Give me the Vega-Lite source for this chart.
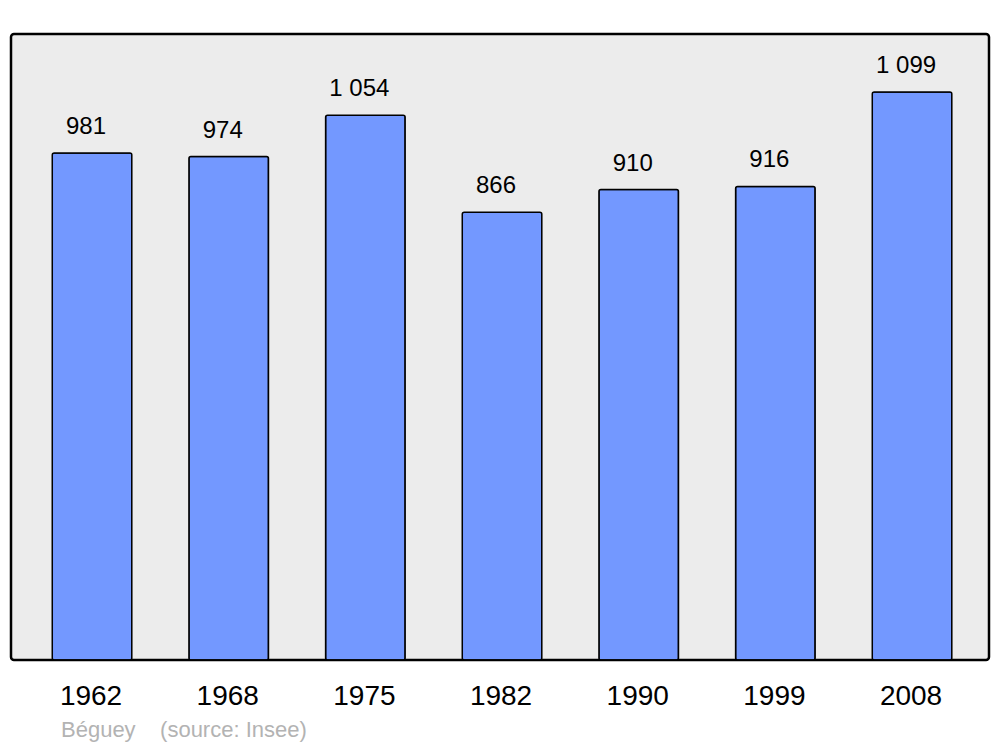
{
  "$schema": "https://vega.github.io/schema/vega-lite/v6.json",
  "width": 978,
  "height": 626,
  "autosize": {"type": "none"},
  "padding": {"left": 11, "top": 34, "right": 11, "bottom": 87},
  "background": "#ffffff",
  "config": {
    "locale": {"number": {"decimal": ",", "thousands": " ", "grouping": [3], "currency": ["", " €"]}},
    "view": {"stroke": "#000000", "strokeWidth": 2.5, "fill": "#ececec", "cornerRadius": 3},
    "font": "Liberation Sans"
  },
  "title": {
    "text": "Béguey\u00a0\u00a0\u00a0\u00a0(source: Insee)",
    "orient": "bottom",
    "anchor": "start",
    "dx": 50,
    "offset": 10,
    "fontSize": 22,
    "fontWeight": "normal",
    "color": "#b3b3b3",
    "font": "Liberation Sans"
  },
  "data": {
    "values": [
      {"year": "1962", "population": 981},
      {"year": "1968", "population": 974},
      {"year": "1975", "population": 1054},
      {"year": "1982", "population": 866},
      {"year": "1990", "population": 910},
      {"year": "1999", "population": 916},
      {"year": "2008", "population": 1099}
    ]
  },
  "encoding": {
    "x": {
      "field": "year",
      "type": "ordinal",
      "sort": null,
      "scale": {"paddingInner": 0.418, "paddingOuter": 0.287, "align": 0.526},
      "axis": {
        "title": null,
        "domain": false,
        "ticks": false,
        "labelAngle": 0,
        "labelFontSize": 28,
        "labelColor": "#000000",
        "labelFont": "Liberation Sans",
        "labelPadding": 22,
        "labelOffset": -1
      }
    },
    "y": {
      "field": "population",
      "type": "quantitative",
      "scale": {"domain": [0, 1211], "nice": false, "zero": true},
      "axis": null
    }
  },
  "layer": [
    {
      "mark": {"type": "bar", "fill": "#7398ff", "stroke": "#000000", "strokeWidth": 1.5, "cornerRadius": 2}
    },
    {
      "mark": {"type": "text", "baseline": "alphabetic", "dy": -19, "dx": -6, "fontSize": 24, "color": "#000000", "font": "Liberation Sans"},
      "encoding": {"text": {"field": "population", "type": "quantitative", "format": ",d"}}
    }
  ]
}
